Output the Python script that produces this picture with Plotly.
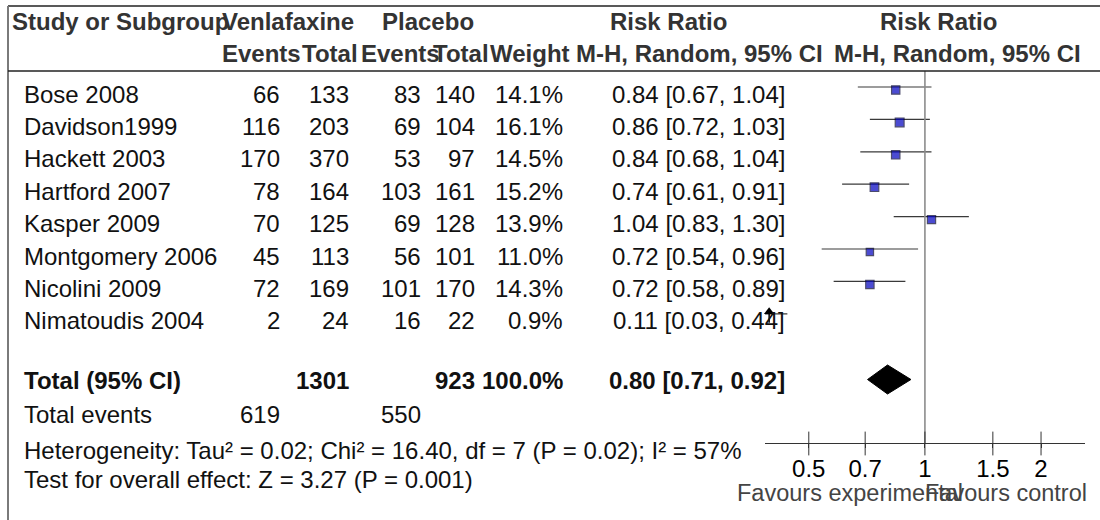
import numpy as np
import plotly.graph_objects as go

# ---- study data ----
studies = ["Bose 2008", "Davidson1999", "Hackett 2003", "Hartford 2007",
           "Kasper 2009", "Montgomery 2006", "Nicolini 2009", "Nimatoudis 2004"]
ven_events = [66, 116, 170, 78, 70, 45, 72, 2]
ven_total = [133, 203, 370, 164, 125, 113, 169, 24]
pla_events = [83, 69, 53, 103, 69, 56, 101, 16]
pla_total = [140, 104, 97, 161, 128, 101, 170, 22]
weights = [14.1, 16.1, 14.5, 15.2, 13.9, 11.0, 14.3, 0.9]
rr = [0.84, 0.86, 0.84, 0.74, 1.04, 0.72, 0.72, 0.11]
ci_lo = [0.67, 0.72, 0.68, 0.61, 0.83, 0.54, 0.58, 0.03]
ci_hi = [1.04, 1.03, 1.04, 0.91, 1.30, 0.96, 0.89, 0.44]

# ---- pooled result ----
total_ven, total_pla, total_weight = 1301, 923, 100.0
pooled_rr, pooled_lo, pooled_hi = 0.80, 0.71, 0.92
events_ven, events_pla = 619, 550
heterogeneity = "Heterogeneity: Tau² = 0.02; Chi² = 16.40, df = 7 (P = 0.02); I² = 57%"
overall = "Test for overall effect: Z = 3.27 (P = 0.001)"

tick_vals = [0.5, 0.7, 1, 1.5, 2]
tick_text = ["0.5", "0.7", "1", "1.5", "2"]
x_min, x_max = 0.385, 2.6

# ---- page geometry ----
W, H = 1100, 520
FONT = "Liberation Sans, Arial, sans-serif"
FS = 24
TXT = "#111111"
HDR = "#333333"
ROW0 = 87.0       # CI line of the first study row
PITCH = 32.4
TEXT_DY = 7.0     # text centre sits a little under the CI line
AXIS_Y = 443.0
X0_PX, X1_PX = 765, 1085

# numeric columns: right edge of the numbers, centre of the header word
COL_RIGHT = {"ve": 282, "vt": 351, "pe": 423, "pt": 477, "w": 565, "ci": 787}
COL_HEAD = {"ve": 261, "vt": 330, "pe": 400, "pt": 461, "w": 530}

row_line = [ROW0 + i * PITCH for i in range(len(studies))]
row_text = [y + TEXT_DY for y in row_line]
total_y = 379.5

fig = go.Figure()

# CI whiskers
for lo, hi, y in zip(ci_lo, ci_hi, row_line):
    fig.add_trace(go.Scatter(x=[lo, hi], y=[y, y], mode="lines",
                             line=dict(color="#3a3a3a", width=1.2),
                             hoverinfo="skip", showlegend=False))

# arrow marks for intervals running past the left end of the scale
off_rows = [y for lo, y in zip(ci_lo, row_line) if lo < x_min]
arrow_x = x_min * 1.025
for y in off_rows:
    fig.add_trace(go.Scatter(x=[arrow_x, arrow_x], y=[y - 2, y + 9], mode="lines",
                             line=dict(color="black", width=1.5),
                             hoverinfo="skip", showlegend=False))
if off_rows:
    fig.add_trace(go.Scatter(x=[arrow_x] * len(off_rows), y=[y - 2 for y in off_rows],
                             mode="markers",
                             marker=dict(symbol="triangle-up", size=9, color="black"),
                             hoverinfo="skip", showlegend=False, cliponaxis=False))

# weighted squares
fig.add_trace(go.Scatter(x=rr, y=[y + 3 for y in row_line], mode="markers",
                         marker=dict(symbol="square", color="#0000c0",
                                     size=[2.2 * np.sqrt(w) for w in weights],
                                     line=dict(color="#000030", width=1.2)),
                         hoverinfo="skip", showlegend=False))

# pooled diamond
half_h = 14.5
fig.add_trace(go.Scatter(x=[pooled_lo, pooled_rr, pooled_hi, pooled_rr, pooled_lo],
                         y=[total_y, total_y - half_h, total_y, total_y + half_h, total_y],
                         mode="lines", fill="toself", fillcolor="black",
                         line=dict(color="black", width=1),
                         hoverinfo="skip", showlegend=False))

# line of no effect
fig.add_trace(go.Scatter(x=[1, 1], y=[71, AXIS_Y], mode="lines",
                         line=dict(color="#8c8c8c", width=1.6),
                         hoverinfo="skip", showlegend=False))

# tick marks crossing the axis line
fig.add_trace(go.Scatter(x=tick_vals, y=[AXIS_Y + 0.5] * len(tick_vals), mode="markers",
                         marker=dict(symbol="line-ns", size=17,
                                     line=dict(color="#333333", width=1)),
                         hoverinfo="skip", showlegend=False, cliponaxis=False))

ann = []


def px(x):
    return x / W


def text(x, y, s, anchor="left", bold=False, color=TXT, size=FS):
    if bold:
        s = "<b>" + s + "</b>"
    ann.append(dict(x=px(x), y=y, xref="paper", yref="y", text=s, showarrow=False,
                    xanchor=anchor, yanchor="middle",
                    font=dict(family=FONT, size=size, color=color)))


# header
H1, H2 = 21, 53
text(10, H1, "Study or Subgroup", bold=True, color=HDR)
text(288, H1, "Venlafaxine", "center", True, HDR)
text(428, H1, "Placebo", "center", True, HDR)
text(668, H1, "Risk Ratio", "center", True, HDR)
text(938, H1, "Risk Ratio", "center", True, HDR)
text(COL_HEAD["ve"], H2, "Events", "center", True, HDR)
text(COL_HEAD["vt"], H2, "Total", "center", True, HDR)
text(COL_HEAD["pe"], H2, "Events", "center", True, HDR)
text(COL_HEAD["pt"], H2, "Total", "center", True, HDR)
text(COL_HEAD["w"], H2, "Weight", "center", True, HDR)
text(699, H2, "M-H, Random, 95% CI", "center", True, HDR)
text(957, H2, "M-H, Random, 95% CI", "center", True, HDR)

# study rows
for i, y in enumerate(row_text):
    text(22, y, studies[i])
    text(COL_RIGHT["ve"], y, str(ven_events[i]), "right")
    text(COL_RIGHT["vt"], y, str(ven_total[i]), "right")
    text(COL_RIGHT["pe"], y, str(pla_events[i]), "right")
    text(COL_RIGHT["pt"], y, str(pla_total[i]), "right")
    text(COL_RIGHT["w"], y, f"{weights[i]:.1f}%", "right")
    text(COL_RIGHT["ci"], y, f"{rr[i]:.2f} [{ci_lo[i]:.2f}, {ci_hi[i]:.2f}]", "right")

# totals
ty = total_y + 1
text(22, ty, "Total (95% CI)", bold=True)
text(COL_RIGHT["vt"], ty, str(total_ven), "right", True)
text(COL_RIGHT["pt"], ty, str(total_pla), "right", True)
text(COL_RIGHT["w"], ty, f"{total_weight:.1f}%", "right", True)
text(COL_RIGHT["ci"], ty, f"{pooled_rr:.2f} [{pooled_lo:.2f}, {pooled_hi:.2f}]", "right", True)
text(22, 414, "Total events")
text(COL_RIGHT["ve"], 414, str(events_ven), "right")
text(COL_RIGHT["pe"], 414, str(events_pla), "right")
text(22, 450, heterogeneity)
text(22, 479, overall)

# favours labels, centred in each half of the scale
mid_px = X0_PX + (X1_PX - X0_PX) * (0 - np.log10(x_min)) / (np.log10(x_max) - np.log10(x_min))
text((X0_PX + mid_px) / 2 + 5, 493, "Favours experimental", "center", color="#444444", size=23.5)
text((mid_px + X1_PX) / 2 + 1, 493, "Favours control", "center", color="#444444", size=23.5)

# frame lines
shapes = [
    dict(type="line", xref="paper", yref="y", x0=px(8), x1=1, y0=6, y1=6,
         line=dict(color="#222222", width=1.5)),
    dict(type="line", xref="paper", yref="y", x0=px(8), x1=px(8), y0=6, y1=H,
         line=dict(color="#7a7a7a", width=2)),
    dict(type="line", xref="paper", yref="y", x0=px(8), x1=1, y0=71, y1=71,
         line=dict(color="#222222", width=1.3)),
]

fig.update_layout(
    width=W, height=H,
    margin=dict(l=0, r=0, t=0, b=0),
    paper_bgcolor="white", plot_bgcolor="white",
    showlegend=False,
    annotations=ann, shapes=shapes,
    xaxis=dict(type="log", domain=[X0_PX / W, X1_PX / W],
               range=[np.log10(x_min), np.log10(x_max)],
               anchor="free", position=1 - AXIS_Y / H,
               tickmode="array", tickvals=tick_vals, ticktext=tick_text,
               ticks="outside", ticklen=4, tickcolor="#333333", tickwidth=1,
               showline=True, linecolor="#333333", linewidth=1,
               showgrid=False, zeroline=False,
               tickfont=dict(family=FONT, size=FS, color="black")),
    yaxis=dict(domain=[0, 1], range=[H, 0], visible=False,
               showgrid=False, zeroline=False),
)

fig.write_html("out.html")
